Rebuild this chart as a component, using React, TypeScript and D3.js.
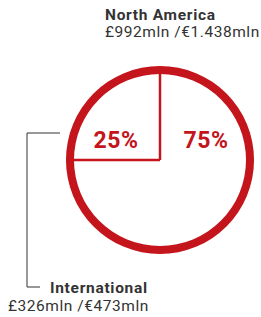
import React from 'react';
import * as d3 from 'd3';

const regions = ['International', 'North America'];
const shares = [25, 75];
const amounts = ['£326mln /€473mln', '£992mln /€1.438mln'];

const RED = '#c4141c';
const INK = '#333333';

export default function App() {
  const width = 261;
  const height = 317;
  const cx = 160;
  const cy = 160;
  const radius = 90;

  const pie = d3.pie<number>().sort(null).startAngle(-Math.PI / 2).endAngle((3 * Math.PI) / 2);
  const slices = pie(shares);

  const ring = d3.arc<any>().innerRadius(radius - 4).outerRadius(radius + 4);
  const ringPath = ring({ startAngle: 0, endAngle: 2 * Math.PI });

  // radial dividers at slice boundaries
  const boundaries = slices.map(s => s.startAngle);
  const pt = (a: number, r: number) => [r * Math.sin(a), -r * Math.cos(a)];

  const labelPos = [[-44, -12], [46, -12]];

  return (
    <svg width={width} height={height} style={{ position: 'absolute', left: 0, top: 0 }}>
      <g transform={`translate(${cx},${cy})`}>
        <path d={ringPath || ''} fill={RED} />
        {boundaries.map((a, i) => {
          const [x, y] = pt(a, radius);
          return <line key={i} x1={0} y1={0} x2={x} y2={y} stroke={RED} strokeWidth={2.5} />;
        })}
        {slices.map((s, i) => (
          <text
            key={i}
            x={labelPos[i][0]}
            y={labelPos[i][1]}
            textAnchor="middle"
            fill={RED}
            fontFamily="Roboto, sans-serif"
            fontWeight={700}
            fontSize={23}
            letterSpacing={0.5}
          >
            {s.data}%
          </text>
        ))}
      </g>
      {/* North America label */}
      <text x={105} y={20} fill={INK} fontFamily="Roboto, sans-serif" fontWeight={700} fontSize={15.5} letterSpacing={0.7}>
        {regions[1]}
      </text>
      <text x={105} y={37} fill={INK} fontFamily="Roboto, sans-serif" fontSize={15.5} letterSpacing={0.55}>
        {amounts[1]}
      </text>
      {/* International leader */}
      <path d="M60,133 H27 V287 H40" fill="none" stroke={INK} strokeWidth={1} />
      <text x={50} y={293} fill={INK} fontFamily="Roboto, sans-serif" fontWeight={700} fontSize={15.5} letterSpacing={0.7}>
        {regions[0]}
      </text>
      <text x={8} y={311} fill={INK} fontFamily="Roboto, sans-serif" fontSize={15.5} letterSpacing={0.55}>
        {amounts[0]}
      </text>
    </svg>
  );
}
